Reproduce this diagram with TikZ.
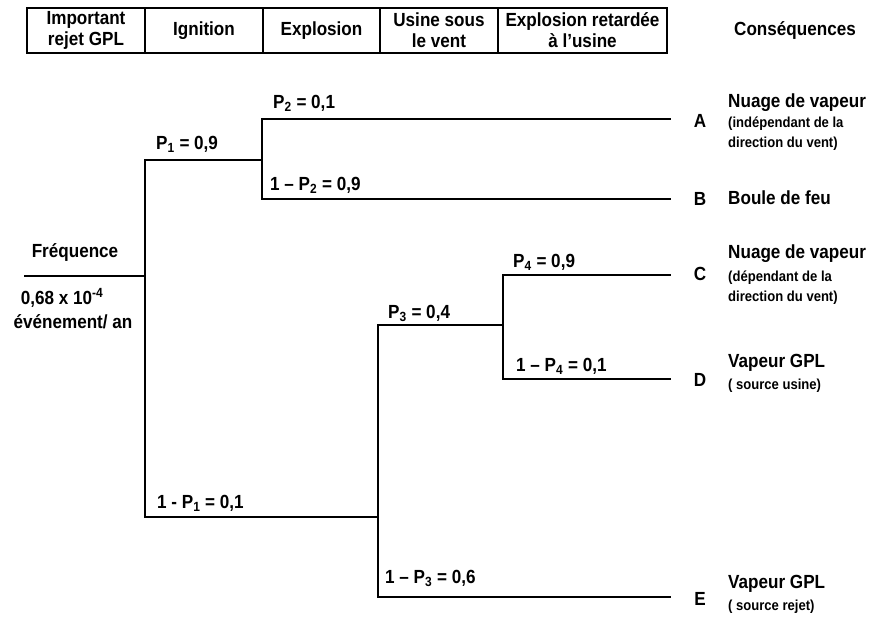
\documentclass[tikz,border=0pt]{standalone}
\usepackage{fontspec}
\setmainfont{Liberation Sans}[FakeStretch=0.9]
\begin{document}
\begin{tikzpicture}[x=1pt,y=-1pt,
  big/.style={font=\fontsize{19}{21}\selectfont\bfseries, inner sep=0pt},
  small/.style={font=\fontsize{14.5}{16}\selectfont\bfseries, inner sep=0pt},
  hdr/.style={draw, line width=2.4pt, minimum height=45pt, align=center, inner sep=0pt,
              font=\fontsize{19}{21}\selectfont\bfseries},
  branch/.style={line width=2.4pt, line cap=rect},
  prob/.style={big, anchor=base west},
  letter/.style={big, anchor=base},
  cons/.style={big, anchor=base west},
  consS/.style={small, anchor=base west}]
\useasboundingbox (0,0) rectangle (874,619);
% header
\node[hdr, minimum width=118pt] (h1) at (86,30.5) {Important\\rejet GPL};
\node[hdr, minimum width=118pt] (h2) at (204,30.5) {Ignition};
\node[hdr, minimum width=117pt] (h3) at (321.5,30.5) {Explosion};
\node[hdr, minimum width=118pt] (h4) at (439,30.5) {Usine sous\\le vent};
\node[hdr, minimum width=169pt] (h5) at (582.5,30.5) {Explosion retardée\\à l’usine};
\node[big] (h6) at (795,31) {Conséquences};
% tree coordinates
\coordinate (f0) at (25,276);
\coordinate (n1) at (145,276);
\coordinate (n2) at (262,160);
\coordinate (n3) at (378,517);
\coordinate (n4) at (503,325);
\coordinate (eA) at (670,119);
\coordinate (eB) at (670,199);
\coordinate (eC) at (670,275);
\coordinate (eD) at (670,379);
\coordinate (eE) at (670,597);
% branches
\draw[branch] (f0) -- (n1);
\draw[branch] (eA) -| (n2) |- (eB);
\draw[branch] (n2) -| (n1) |- (n3);
\draw[branch] (n4) -| (n3) |- (eE);
\draw[branch] (eC) -| (n4) |- (eD);
% frequency
\node[big] (fq) at (75,252) {Fréquence};
\node[big] (fv) at (62,298) {0,68 x 10\textsuperscript{-4}};
\node[big] (fu) at (73,322) {événement/ an};
% probabilities
\node[prob] (p2) at (273,108) {P\textsubscript{2} = 0,1};
\node[prob] (p1) at (156,149) {P\textsubscript{1} = 0,9};
\node[prob] (q2) at (270,190) {1 – P\textsubscript{2} = 0,9};
\node[prob] (p4) at (513,267) {P\textsubscript{4} = 0,9};
\node[prob] (p3) at (388,318) {P\textsubscript{3} = 0,4};
\node[prob] (q4) at (516,371) {1 – P\textsubscript{4} = 0,1};
\node[prob] (q1) at (157,508) {1 - P\textsubscript{1} = 0,1};
\node[prob] (q3) at (385,583) {1 – P\textsubscript{3} = 0,6};
% letters
\node[letter] (lA) at (700,127) {A};
\node[letter] (lB) at (700,205) {B};
\node[letter] (lC) at (700,280) {C};
\node[letter] (lD) at (700,386) {D};
\node[letter] (lE) at (700,605) {E};
% consequences
\node[cons] (cA1) at (728,107) {Nuage de vapeur};
\node[consS] (cA2) at (728,127) {(indépendant de la};
\node[consS] (cA3) at (728,147) {direction du vent)};
\node[cons] (cB1) at (728,204) {Boule de feu};
\node[cons] (cC1) at (728,258) {Nuage de vapeur};
\node[consS] (cC2) at (728,281) {(dépendant de la};
\node[consS] (cC3) at (728,301) {direction du vent)};
\node[cons] (cD1) at (728,367) {Vapeur GPL};
\node[consS] (cD2) at (728,389) {( source usine)};
\node[cons] (cE1) at (728,588) {Vapeur GPL};
\node[consS] (cE2) at (728,610) {( source rejet)};
\end{tikzpicture}
\end{document}
